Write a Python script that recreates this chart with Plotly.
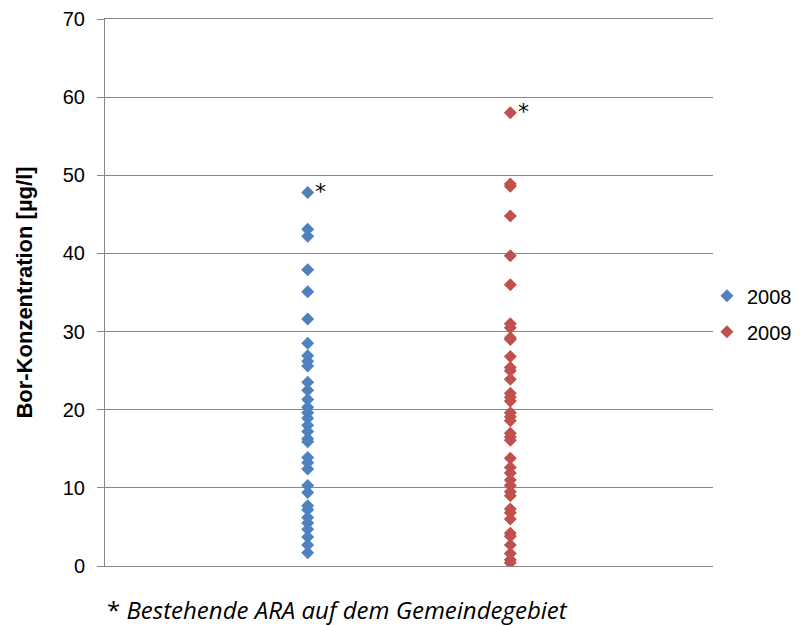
import plotly.graph_objects as go

years = ["2008", "2009"]
bor_2008 = [47.8, 43.1, 42.2, 37.9, 35.1, 31.6, 28.5, 26.9, 26.2, 25.6, 23.5, 22.5,
            21.3, 20.3, 19.6, 18.9, 18.0, 17.2, 16.3, 15.9, 13.9, 13.2, 12.4, 10.3,
            9.4, 7.7, 7.2, 6.2, 5.5, 4.7, 3.7, 2.7, 1.7]
bor_2009 = [58.0, 48.9, 48.6, 44.8, 39.7, 36.0, 31.0, 30.5, 29.2, 29.0, 26.8, 25.4,
            25.0, 23.9, 22.1, 21.6, 21.1, 19.6, 19.1, 18.6, 17.0, 16.5, 16.1, 13.8,
            12.6, 11.9, 11.0, 10.3, 9.5, 9.0, 7.3, 6.8, 6.0, 4.2, 3.8, 2.7, 1.6, 0.8, 0.4]
x_pos = [1, 2]
colors = ["#4F81BD", "#C0504D"]
y_ticks = [0, 10, 20, 30, 40, 50, 60, 70]
note_text = "* <i>Bestehende ARA auf dem Gemeindegebiet</i>"
y_title = "Bor-Konzentration [µg/l]"

fig = go.Figure()
for name, vals, xp, c in zip(years, [bor_2008, bor_2009], x_pos, colors):
    fig.add_trace(go.Scatter(
        x=[xp] * len(vals), y=vals, mode="markers", name=name, legendgroup=name,
        marker=dict(symbol="diamond", size=10, color=c, line=dict(width=0)),
    ))

# asterisks next to the top points
for vals, xp in zip([bor_2008, bor_2009], x_pos):
    fig.add_annotation(x=xp, y=max(vals), text="*", showarrow=False,
                       xshift=13, yshift=1,
                       font=dict(family="DejaVu Sans, Arial", size=22, color="black"))

fig.add_annotation(xref="paper", yref="paper", x=0.0, y=-0.080, xanchor="left", yanchor="middle",
                   text=note_text, showarrow=False,
                   font=dict(family="Open Sans", size=24, color="black"))

fig.update_layout(
    width=794, height=618,
    margin=dict(l=97, r=89, t=11, b=60, autoexpand=False),
    plot_bgcolor="white", paper_bgcolor="white",
    font=dict(family="Liberation Sans, Arial", size=20, color="black"),
    showlegend=True,
    legend=dict(x=0.99, xanchor="left", y=0.461, yanchor="middle",
                font=dict(size=20), itemwidth=30, tracegroupgap=7,
                bgcolor="rgba(0,0,0,0)"),
    xaxis=dict(range=[0, 3], showgrid=False, zeroline=False, showticklabels=False,
               showline=True, mirror=True, linecolor="#868686", linewidth=1, ticks=""),
    yaxis=dict(range=[0, 70], tickvals=y_ticks, showgrid=True, gridcolor="#868686",
               gridwidth=1, zeroline=False, showline=True, linecolor="#868686",
               linewidth=1, ticks="outside", ticklen=7, tickcolor="#868686",
               ticklabelstandoff=8,
               title=dict(text="<b>" + y_title + "</b>", font=dict(size=22), standoff=24)),
)

fig.write_html("out.html")
